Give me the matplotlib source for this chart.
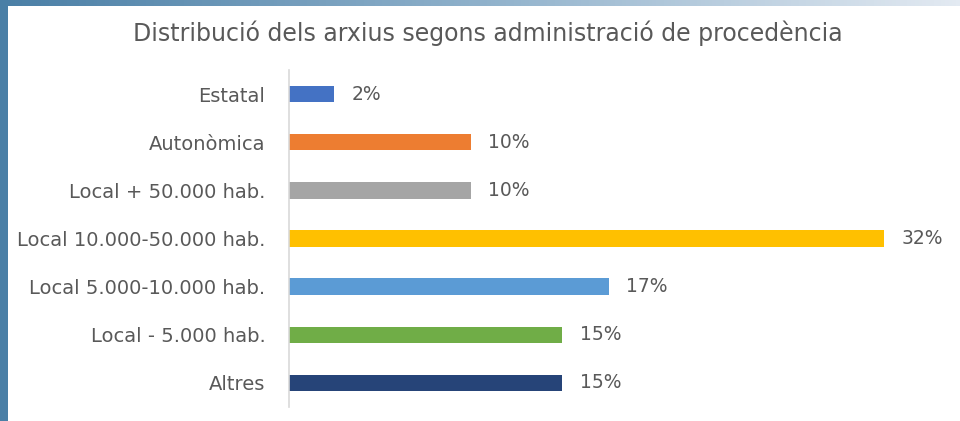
import matplotlib
matplotlib.use("Agg")
import matplotlib.pyplot as plt
import numpy as np
from matplotlib.colors import LinearSegmentedColormap

categories = ["Estatal", "Autonòmica", "Local + 50.000 hab.", "Local 10.000-50.000 hab.",
              "Local 5.000-10.000 hab.", "Local - 5.000 hab.", "Altres"]
values = [2.4, 9.7, 9.7, 31.8, 17.1, 14.6, 14.6]
colors = ["#4472C4", "#ED7D31", "#A5A5A5", "#FFC000", "#5B9BD5", "#70AD47", "#264478"]
title = "Distribució dels arxius segons administració de procedència"

plt.rcParams['font.family'] = ['DejaVu Sans']
W, H = 960, 421
fig = plt.figure(figsize=(W/100, H/100), dpi=100)
fig.patch.set_facecolor("white")

# decorative frame: left strip and top gradient strip
bg = fig.add_axes([0, 0, 1, 1], zorder=-1)
bg.set_xlim(0, W); bg.set_ylim(H, 0); bg.axis("off")
cmap = LinearSegmentedColormap.from_list("g", ["#4a7fa6", "#8fb1cb", "#e3eaf2"])
grad = np.linspace(0, 1, 256).reshape(1, -1)
bg.imshow(grad, cmap=cmap, extent=[0, W, 6, 0], aspect="auto")
bg.add_patch(plt.Rectangle((0, 0), 8, H, color="#4a7fa6", lw=0))
bg.set_xlim(0, W); bg.set_ylim(H, 0)

# main axes: x from 289 to 944 px, y from 70 to 407 px
x0, x1 = 289, 944
y0, y1 = 70, 407
ax = fig.add_axes([x0/W, 1 - y1/H, (x1-x0)/W, (y1-y0)/H])
y = np.arange(len(categories))
ax.barh(y, values, height=0.34, color=colors)
ax.set_ylim(len(categories) - 0.5, -0.5)
ax.set_xlim(0, 35)
ax.set_yticks(y)
ax.set_yticklabels(categories, fontsize=14, color="#595959")
ax.tick_params(axis="y", length=0, pad=17)
ax.set_xticks([])
for s in ["top", "right", "bottom"]:
    ax.spines[s].set_visible(False)
ax.spines["left"].set_color("#d9d9d9")
ax.spines["left"].set_linewidth(1.2)
ax.patch.set_alpha(0)

for yi, v in zip(y, values):
    ax.annotate(f"{v:.0f}%", (v, yi), xytext=(12.5, 0), textcoords="offset points",
                va="center", ha="left", fontsize=13.5, color="#595959")

fig.text(488/W, 1 - 33/H, title, ha="center", va="center", fontsize=17, color="#595959")

fig.savefig("out.png", dpi=100)
